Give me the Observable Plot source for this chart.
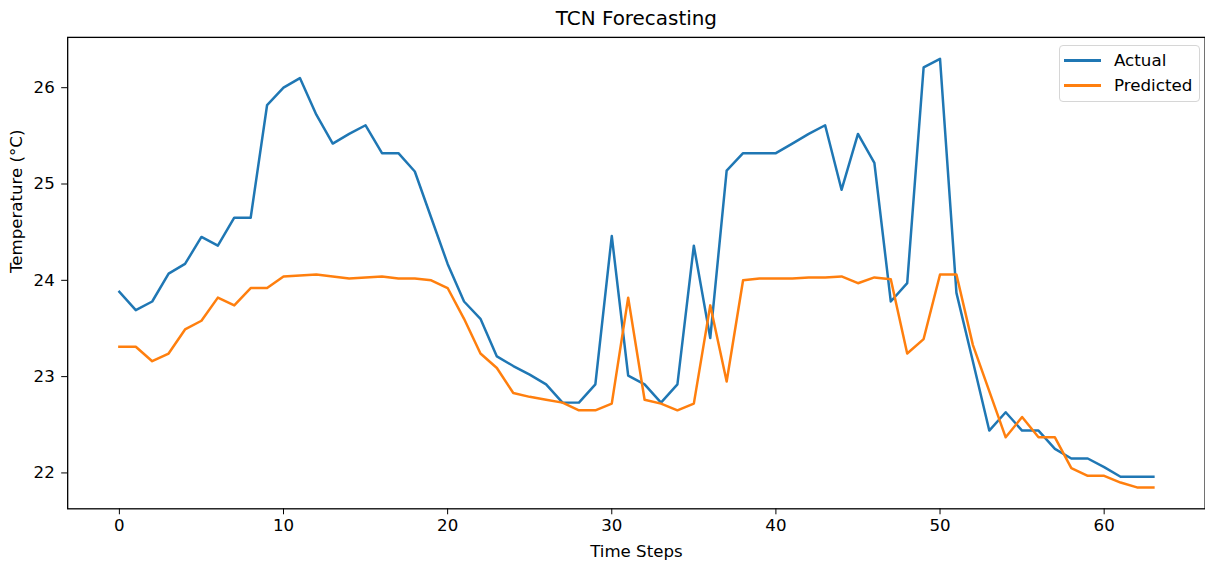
<!DOCTYPE html>
<html>
<head>
<meta charset="utf-8">
<script src="https://cdn.jsdelivr.net/npm/d3@7"></script>
<script src="https://cdn.jsdelivr.net/npm/@observablehq/plot@0.6"></script>
<style>
  html, body { margin: 0; padding: 0; background: #fff; }
  #wrap { position: relative; width: 1205px; height: 566px; overflow: hidden; font-family: "DejaVu Sans", sans-serif; }
  #legend { position: absolute; left: 1059px; top: 45px; width: 141px; height: 57px; border: 1.3px solid #d6d6d6; border-radius: 4px; background: rgba(255,255,255,0.8); box-sizing: border-box; }
  .entry { position: absolute; left: 0; height: 20px; font-size: 16.7px; color: #000; }
  .entry .sw { position: absolute; left: 4px; width: 37px; height: 2.5px; top: 11px; }
  .entry .lb { position: absolute; left: 54px; top: 2px; white-space: nowrap; line-height: 20px; }
</style>
</head>
<body>
<div id="wrap"><div id="chart"></div><div id="legend"></div></div>
<script>
const title = "TCN Forecasting";
const xLabel = "Time Steps";
const yLabel = "Temperature (°C)";
const seriesNames = ["Actual", "Predicted"];
const seriesColors = ["#1f77b4", "#ff7f0e"];
const xTicks = [0, 10, 20, 30, 40, 50, 60];
const yTicks = [22, 23, 24, 25, 26];

const actual = [
  23.88, 23.69, 23.78, 24.07, 24.17, 24.45, 24.36, 24.65, 24.65, 25.82,
  26.00, 26.10, 25.72, 25.42, 25.52, 25.61, 25.32, 25.32, 25.13, 24.65,
  24.17, 23.78, 23.60, 23.21, 23.11, 23.02, 22.92, 22.73, 22.73, 22.92,
  24.46, 23.01, 22.92, 22.73, 22.92, 24.36, 23.40, 25.14, 25.32, 25.32,
  25.32, 25.42, 25.52, 25.61, 24.94, 25.52, 25.22, 23.78, 23.97, 26.21,
  26.30, 23.87, 23.16, 22.44, 22.63, 22.44, 22.44, 22.25, 22.15, 22.15,
  22.06, 21.96, 21.96, 21.96
];
const predicted = [
  23.31, 23.31, 23.16, 23.24, 23.49, 23.58, 23.82, 23.74, 23.92, 23.92,
  24.04, 24.05, 24.06, 24.04, 24.02, 24.03, 24.04, 24.02, 24.02, 24.00,
  23.92, 23.60, 23.24, 23.09, 22.83, 22.79, 22.76, 22.73, 22.65, 22.65,
  22.72, 23.82, 22.76, 22.72, 22.65, 22.72, 23.74, 22.95, 24.00, 24.02,
  24.02, 24.02, 24.03, 24.03, 24.04, 23.97, 24.03, 24.01, 23.24, 23.39,
  24.06, 24.06, 23.33, 22.85, 22.37, 22.58, 22.37, 22.37, 22.05, 21.97,
  21.97, 21.90, 21.85, 21.85
];

const rows = [];
[actual, predicted].forEach((arr, s) => arr.forEach((v, i) => rows.push({series: seriesNames[s], t: i, v})));

// matplotlib-style 5% margins
const xExt = [0, actual.length - 1];
const xPad = (xExt[1] - xExt[0]) * 0.05;
const yExt = d3.extent(rows, d => d.v);
const yPad = (yExt[1] - yExt[0]) * 0.05;

const font = "DejaVu Sans, sans-serif";
const chart = Plot.plot({
  width: 1209,
  height: 566,
  marginLeft: 67.4,
  marginRight: 0.4,
  marginTop: 37,
  marginBottom: 56,
  style: {fontFamily: font, fontSize: "16.7px", color: "#000", background: "#fff", overflow: "visible"},
  x: {domain: [xExt[0] - xPad, xExt[1] + xPad], ticks: xTicks, tickFormat: d3.format("d"), tickSize: 6, tickPadding: 4, label: null},
  y: {domain: [yExt[0] - yPad, yExt[1] + yPad], ticks: yTicks, tickFormat: d3.format("d"), tickSize: 6, tickPadding: 7, label: null},
  color: {domain: seriesNames, range: seriesColors},
  marks: [
    Plot.line(rows, {x: "t", y: "v", z: "series", stroke: "series", strokeWidth: 2.5, strokeLinejoin: "round", strokeLinecap: "square"}),
    Plot.frame({stroke: "#000", strokeWidth: 1.3}),
    Plot.text([title], {frameAnchor: "top", lineAnchor: "middle", dy: -19, fontSize: 20, fill: "#000"}),
    Plot.text([xLabel], {frameAnchor: "bottom", lineAnchor: "middle", dy: 43, fontSize: 16.7, fill: "#000"}),
    Plot.text([yLabel], {frameAnchor: "left", lineAnchor: "middle", dx: -51, rotate: -90, fontSize: 16.7, fill: "#000"})
  ]
});
document.getElementById("chart").appendChild(chart);

const legend = document.getElementById("legend");
seriesNames.forEach((name, i) => {
  const e = document.createElement("div");
  e.className = "entry";
  e.style.top = (2 + i * 25) + "px";
  e.style.width = "100%";
  e.innerHTML = `<div class="sw" style="background:${seriesColors[i]}"></div><div class="lb">${name}</div>`;
  legend.appendChild(e);
});
</script>
</body>
</html>
